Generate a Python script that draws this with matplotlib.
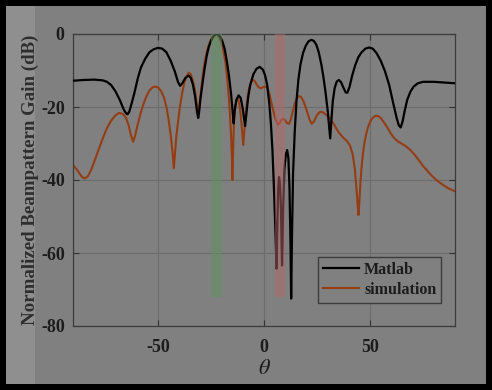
import matplotlib
matplotlib.use("Agg")
import matplotlib.pyplot as plt
from matplotlib.patches import Rectangle

# --- data (theta in degrees, gain in dB) ---
matlab_theta = [-90, -85, -80, -76, -74, -72, -70, -68, -66, -65, -64.3, -63.5, -62.5, -61, -59.5,
                -58, -56, -54, -52, -50, -48, -46, -44, -42, -40.5, -39.5, -38.5, -37, -35.5,
                -34.5, -33.5, -32.5, -31.5, -31, -30.5, -30, -29.2, -28, -27, -26, -25, -24, -23,
                -22.2, -21.5, -20.5, -19.5, -18.5, -17.5, -16.5, -15.5, -14.7, -14.3, -13.8, -13,
                -12, -11, -10, -9.3, -8.9, -8.3, -7.5, -6.5, -5, -3.5, -2, -0.5, 0.5, 1.5, 2.5,
                3.3, 4, 4.8, 5.5, 5.9, 6.3, 6.7, 7.1, 7.5, 8, 8.5, 9, 9.6, 10.3, 10.9, 11.5, 12,
                12.5, 12.8, 13.2, 13.7, 14.5, 15.3, 16.2, 17.2, 18.4, 19.7, 21, 22.3, 23.5, 24.7,
                25.8, 27, 28, 29, 30, 30.7, 31.2, 31.7, 32.4, 33.3, 34.3, 35.3, 36.3, 37.5, 38.5,
                39.3, 40.3, 41.5, 43, 44.5, 46, 47.8, 49.5, 51.2, 53, 55, 57, 59, 60.9, 62.5, 63.5,
                64.4, 65.3, 66.3, 67.5, 69, 70.5, 72.5, 75, 80, 85, 90]
matlab_db = [-12.8, -12.6, -12.5, -12.7, -13.1, -14.0, -15.7, -18.0, -20.8, -21.7, -22.0, -21.3,
             -19.3, -16.0, -12.2, -9.2, -6.8, -5.0, -4.2, -3.8, -4.0, -5.0, -7.3, -10.3, -13.2,
             -14.2, -13.5, -12.0, -11.4, -12.0, -13.8, -17.0, -21.5, -23.0, -21.0, -18.0, -14.5,
             -9.5, -6.0, -3.5, -1.9, -0.8, -0.2, 0.0, -0.2, -0.9, -2.2, -4.2, -7.5, -11.5, -16.5,
             -22.0, -24.5, -21.0, -18.0, -16.8, -17.5, -20.5, -23.5, -25.2, -22.0, -17.5, -14.0,
             -11.0, -9.5, -9.0, -9.8, -11.3, -14.0, -19.0, -25.0, -32.0, -44.0, -56.0, -64.3,
             -52.0, -42.0, -39.2, -41.0, -48.0, -63.4, -48.0, -37.0, -33.0, -31.8, -34.0, -42.0,
             -58.0, -72.5, -55.0, -38.0, -26.5, -18.5, -12.5, -8.3, -5.2, -3.2, -2.0, -1.6, -1.9,
             -3.0, -5.0, -8.3, -11.8, -16.0, -21.0, -25.5, -28.6, -24.0, -18.5, -14.8, -13.0,
             -12.6, -13.2, -14.8, -16.0, -16.1, -14.5, -11.5, -8.5, -6.3, -5.0, -4.0, -3.7, -4.0,
             -5.2, -7.3, -10.2, -14.0, -19.0, -23.0, -25.0, -25.6, -24.0, -21.0, -18.0, -15.8,
             -14.4, -13.5, -13.1, -13.1, -13.3, -13.5]

sim_theta = [-90, -88, -86, -84.5, -83, -81.5, -80, -78, -76, -74, -72, -70, -68.3, -66.5, -65,
             -63.8, -62.7, -61.7, -60.8, -59.8, -58.5, -57, -55.5, -54, -52.5, -51.3, -50, -48.5,
             -47, -45.8, -44.8, -43.8, -43, -42.5, -42, -41.3, -40.5, -39.5, -38.5, -37.5, -36.5,
             -35.5, -34.5, -33.5, -32.5, -31.7, -31, -30.4, -29.7, -28.8, -28, -27, -26, -25, -24,
             -23, -22, -21, -20, -19, -18, -17.2, -16.5, -16, -15.5, -15.1, -14.9, -14.6, -14.2,
             -13.7, -13, -12.3, -11.6, -11, -10.4, -9.8, -9.3, -8.7, -8, -7.2, -6.3, -5.4, -4.5,
             -3.5, -2.5, -1.5, -0.5, 0.5, 1.5, 2.5, 3.5, 4.5, 5.5, 6.5, 7.3, 8.2, 9.1, 10, 11,
             11.8, 12.6, 13.5, 14.5, 15.5, 16.5, 17.5, 18.5, 19.5, 20.5, 21.5, 22.5, 23.5, 24.5,
             25.5, 26.5, 27.5, 29, 31, 33, 35, 37, 39, 40.5, 41.8, 42.8, 43.6, 44.2, 44.5, 44.9,
             45.5, 46.2, 47, 48, 49, 50.3, 51.5, 52.6, 53.8, 55, 56.5, 58, 59.5, 61, 63, 65, 67,
             69, 71, 73, 75, 77, 79, 81, 83, 85, 87, 90]
sim_db = [-35.9, -37.3, -39.0, -39.6, -39.0, -37.3, -35.0, -31.8, -28.6, -25.8, -23.7, -22.3, -21.6,
          -21.9, -23.0, -25.0, -27.7, -29.5, -28.0, -25.5, -22.5, -19.5, -17.2, -15.5, -14.6,
          -14.4, -14.6, -15.6, -17.6, -20.5, -24.0, -28.5, -33.0, -36.8, -33.0, -28.0, -24.0,
          -19.5, -16.0, -13.2, -11.6, -10.6, -11.0, -12.8, -15.5, -19.0, -22.0, -19.5, -15.5,
          -11.0, -7.8, -5.0, -3.0, -1.5, -0.5, 0.0, -0.3, -1.2, -2.6, -5.0, -8.5, -13.0, -18.0,
          -22.5, -28.0, -34.0, -40.0, -33.0, -25.0, -20.0, -18.0, -17.6, -19.3, -22.0, -26.0,
          -30.4, -27.0, -22.5, -18.5, -15.3, -13.4, -12.6, -12.8, -13.8, -14.6, -14.9, -14.6,
          -14.4, -14.7, -16.3, -18.8, -21.3, -23.5, -24.8, -24.5, -23.5, -23.2, -23.7, -24.5,
          -24.6, -23.5, -21.3, -19.0, -17.6, -17.0, -17.3, -18.3, -19.8, -21.7, -23.5, -24.6,
          -24.0, -22.8, -21.8, -21.3, -21.4, -22.0, -23.0, -24.8, -26.8, -28.2, -29.3, -30.5,
          -33.0, -37.0, -42.5, -47.5, -49.6, -46.5, -40.0, -35.0, -31.0, -27.8, -25.5, -23.7,
          -22.8, -22.4, -22.5, -23.0, -24.2, -25.5, -27.0, -28.3, -29.4, -30.1, -30.8, -31.8,
          -33.1, -34.6, -36.2, -37.5, -38.8, -39.9, -40.8, -41.6, -42.3, -43.1]

# highlighted angular sectors (theta start, theta end) and their depth
band_ranges = [(-25, -20), (5, 10)]
band_colors = ["#5e945e", "#b46868"]
band_floor = -72

SERIF = "Liberation Serif"
plt.rcParams["mathtext.fontset"] = "stix"
plt.rcParams["axes.unicode_minus"] = False

fig = plt.figure(figsize=(4.92, 3.90), dpi=100, facecolor="black")
fig.patches.append(Rectangle((6 / 492, 6 / 390), 480 / 492, 378 / 390,
                             transform=fig.transFigure, facecolor="#808080", edgecolor="none", zorder=-2))
fig.patches.append(Rectangle((6 / 492, 6 / 390), 29 / 492, 378 / 390,
                             transform=fig.transFigure, facecolor="#8f8f8f", edgecolor="none", zorder=-1))

ax = fig.add_axes([73 / 492, 64 / 390, 382 / 492, 292 / 390])
ax.set_facecolor("#808080")

ax.plot(matlab_theta, matlab_db, color="black", lw=1.6, label="Matlab", zorder=3)
ax.plot(sim_theta, sim_db, color="#953d12", lw=1.5, label="simulation", zorder=2)

for (a, b), c in zip(band_ranges, band_colors):
    ax.bar((a + b) / 2, -band_floor, bottom=band_floor, width=b - a, color=c, alpha=0.5,
           edgecolor="none", zorder=4)

ax.set_xlim(-90, 90)
ax.set_ylim(-80, 0)
ax.set_xticks([-50, 0, 50])
ax.set_yticks([0, -20, -40, -60, -80])
ax.grid(True, color="#6c6c6c", lw=0.8)
ax.set_axisbelow(True)
ax.tick_params(direction="in", length=4, width=0.8, color="#333333", top=True, right=True,
               labelsize=13, labelcolor="#1c1c1c")
ax.tick_params(axis="x", pad=9)
ax.tick_params(axis="y", pad=6)
for lab in ax.get_xticklabels() + ax.get_yticklabels():
    lab.set_family(SERIF)
    lab.set_weight("bold")
for s in ax.spines.values():
    s.set_color("#3c3c3c")
    s.set_linewidth(0.9)

ax.set_xlabel(r"$\theta$", fontsize=16, color="#1c1c1c", labelpad=2)
ax.set_ylabel("Normalized Beampattern Gain (dB)", fontsize=13.6, family=SERIF, weight="bold",
              color="#2e2e2e")
ax.yaxis.set_label_coords(-0.09, 0.5)

leg = ax.legend(loc="lower right", bbox_to_anchor=(0.964, 0.08), fancybox=False, frameon=True,
                prop={"family": SERIF, "weight": "bold", "size": 11.5}, handlelength=2.3,
                handletextpad=0.3, borderpad=0.3, labelspacing=0.25, borderaxespad=0)
leg.get_frame().set_facecolor("#808080")
leg.get_frame().set_edgecolor("#3c3c3c")
leg.get_frame().set_alpha(1)
for t in leg.get_texts():
    t.set_color("#1c1c1c")

fig.savefig("out.png", dpi=100, facecolor=fig.get_facecolor())
